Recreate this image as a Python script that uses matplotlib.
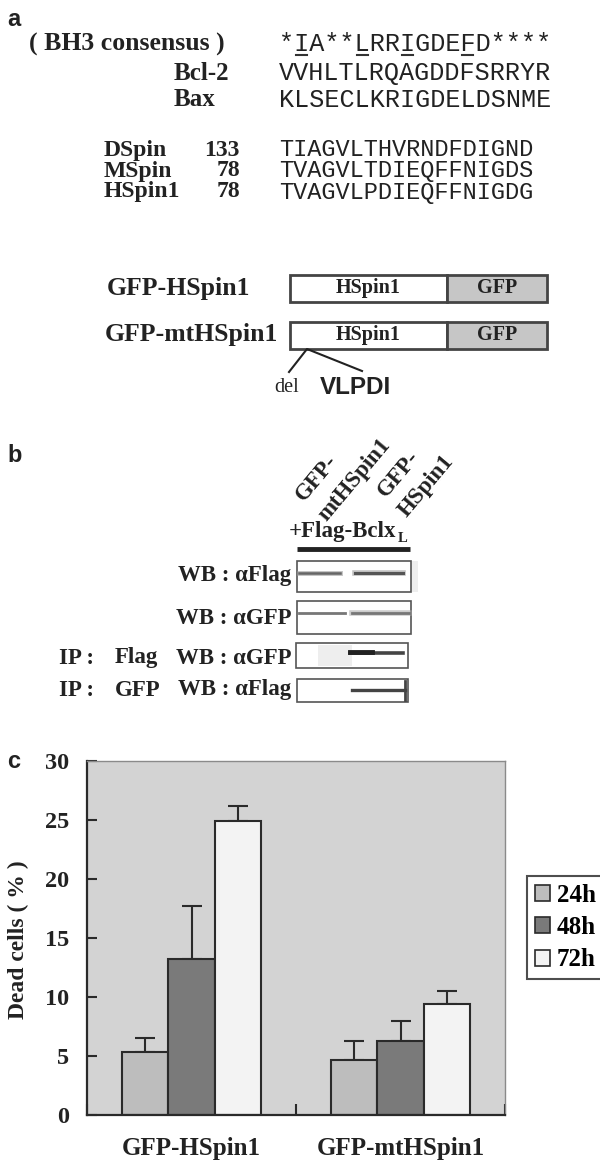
import matplotlib
matplotlib.use('Agg')
import matplotlib.pyplot as plt
from matplotlib.patches import Rectangle, Patch
import numpy as np

SERIF = 'Liberation Serif'
MONO = 'Liberation Mono'
SANS = 'Liberation Sans'

# ---- panel a : sequences
bh3_consensus = '*IA**LRRIGDEFD****'
consensus_underlined = [1, 5, 8, 12]
ref_names = ['Bcl-2', 'Bax']
ref_seqs = ['VVHLTLRQAGDDFSRRYR', 'KLSECLKRIGDELDSNME']
spin_names = ['DSpin', 'MSpin', 'HSpin1']
spin_starts = ['133', '78', '78']
spin_seqs = ['TIAGVLTHVRNDFDIGND', 'TVAGVLTDIEQFFNIGDS', 'TVAGVLPDIEQFFNIGDG']
constructs = ['GFP-HSpin1', 'GFP-mtHSpin1']

# ---- panel b : blot labels
lanes = ['GFP-\nmtHSpin1', 'GFP-\nHSpin1']
wb_labels = ['WB : αFlag', 'WB : αGFP', 'WB : αGFP', 'WB : αFlag']
ip_labels = ['', '', 'Flag', 'GFP']

# ---- panel c : dead cells (%)
groups = ['GFP-HSpin1', 'GFP-mtHSpin1']
hours = ['24h', '48h', '72h']
dead_24h = [5.3, 4.7]
dead_48h = [13.2, 6.25]
dead_72h = [24.9, 9.4]
err_24h = [1.25, 1.55]
err_48h = [4.55, 1.75]
err_72h = [1.3, 1.15]

fig = plt.figure(figsize=(6, 11.63), dpi=100)
ax0 = fig.add_axes([0, 0, 1, 1])
ax0.set_xlim(0, 600)
ax0.set_ylim(1163, 0)
ax0.axis('off')


def t(x, y, s, size=17, ha='left', family=SERIF, weight='bold', **kw):
    ax0.text(x, y, s, fontsize=size, ha=ha, va='center', family=family,
             fontweight=weight, color='#222222', **kw)


# panel a
t(7, 19, 'a', family=SANS)
t(29, 44, '( BH3 consensus )', size=18.5)
x_seq = 279
cw = 15.1
fs_mono = cw / 0.6 * 72 / 100
ax0.text(x_seq, 44, bh3_consensus, family=MONO, fontsize=fs_mono, va='center', color='#222222')
for i in consensus_underlined:
    ax0.plot([x_seq + i * cw + 2, x_seq + (i + 1) * cw - 2], [55, 55], color='#333333', lw=1.5)

for name, seq, y in zip(ref_names, ref_seqs, [73, 100]):
    t(174, y, name, size=18)
    ax0.text(x_seq, y, seq, family=MONO, fontsize=fs_mono, va='center', color='#222222')

# tight three-line block, as in the reference
t(104, 171, '\n'.join(spin_names), size=17, linespacing=0.95)
t(240, 171, '\n'.join(spin_starts), ha='right', size=17, linespacing=0.95, multialignment='right')
ax0.text(x_seq, 171, '\n'.join(spin_seqs), family=MONO, fontsize=fs_mono * 0.94, va='center',
         color='#222222', linespacing=0.92)

# constructs
for name, x, y0 in zip(constructs, [107, 105], [275, 322]):
    t(x, y0 + 13, name, size=18.5)
    ax0.add_patch(Rectangle((290, y0), 157, 27, facecolor='white', edgecolor='#444444', lw=2))
    ax0.add_patch(Rectangle((447, y0), 100, 27, facecolor='#c6c6c6', edgecolor='#444444', lw=2))
    t(368, y0 + 13, 'HSpin1', size=14.5, ha='center')
    t(497, y0 + 13, 'GFP', size=14.5, ha='center')

ax0.plot([289, 307, 362], [372, 349, 371], color='#222222', lw=1.5)
t(274, 387, 'del', size=14.5, weight='normal')
t(320, 387, 'VLPDI', size=17.5, family=SANS)

# panel b
t(7, 455, 'b', family=SANS)
for txt, (px, py) in zip(lanes[0].split('\n') + lanes[1].split('\n'),
                         [(304, 502), (327, 522), (386, 498), (407, 518)]):
    ax0.text(px, py, txt, rotation=50, rotation_mode='anchor', fontsize=16.5,
             family=SERIF, fontweight='bold', color='#222222')
t(289, 532, '+Flag-Bclx', size=16.5)
t(398, 539, 'L', size=10.5)
ax0.plot([297, 410], [549, 549], color='#222222', lw=3.5, solid_capstyle='butt')

blot_boxes = [(297, 561, 114, 31), (297, 601, 114, 33), (296, 643, 112, 25), (297, 679, 111, 23)]
label_y = [575, 618, 658, 690]
ax0.add_patch(Rectangle((411, 561), 7, 31, facecolor='#eeeeee', edgecolor='none'))
ax0.add_patch(Rectangle((318, 645), 34, 21, facecolor='#eeeeee', edgecolor='none'))
for (x, y, w, h), lab, ip, ly in zip(blot_boxes, wb_labels, ip_labels, label_y):
    ax0.add_patch(Rectangle((x, y), w, h, facecolor='none', edgecolor='#555555', lw=1.2))
    t(291, ly, lab, size=16.5, ha='right')
    if ip:
        t(59, ly, 'IP :', size=16.5)
        t(115, ly, ip, size=16.5)

# bands
ax0.plot([299, 340], [573, 573], color='#999999', lw=3.5, alpha=0.6)
ax0.plot([299, 340], [573, 573], color='#666666', lw=1.8)
ax0.plot([355, 403], [573, 573], color='#999999', lw=4, alpha=0.6)
ax0.plot([355, 403], [573, 573], color='#555555', lw=2.2)
ax0.plot([299, 345], [613, 613], color='#777777', lw=2.0)
ax0.plot([352, 409], [613, 613], color='#aaaaaa', lw=4, alpha=0.6)
ax0.plot([352, 409], [613, 613], color='#777777', lw=2.0)
ax0.plot([350, 403], [653, 653], color='#444444', lw=2.6)
ax0.plot([350, 372], [652, 652], color='#222222', lw=3.5)
ax0.plot([352, 405], [690, 690], color='#444444', lw=2.4)
ax0.plot([405, 405], [681, 700], color='#444444', lw=2)

# panel c
t(7, 762, 'c', family=SANS)
ax = fig.add_axes([87 / 600, 1 - 1115 / 1163, 418 / 600, 354 / 1163])
ax.set_facecolor('#d3d3d3')
x = np.array([0.5, 1.5])
w = 0.222
colors = ['#bdbdbd', '#7a7a7a', '#f3f3f3']
series = [dead_24h, dead_48h, dead_72h]
errs = [err_24h, err_48h, err_72h]
handles = []
for k, (vals, e, c, lab) in enumerate(zip(series, errs, colors, hours)):
    xs = x + (k - 1) * w
    ax.bar(xs, vals, width=w, color=c, edgecolor='#2a2a2a', lw=1.5, zorder=2)
    ax.errorbar(xs, vals, yerr=[np.zeros(len(e)), e], fmt='none', ecolor='#2a2a2a',
                elinewidth=1.5, capsize=7, capthick=1.5, zorder=1)
    handles.append(Patch(facecolor=c, edgecolor='#2a2a2a', lw=1.2, label=lab))

ax.set_xlim(0, 2)
ax.set_ylim(0, 30)
ax.set_yticks(np.arange(0, 31, 5))
ax.set_xticks([0, 1, 2])
ax.set_xticklabels([])
ax.set_xticks(x, minor=True)
ax.set_xticklabels(groups, minor=True, fontsize=18, family=SERIF, fontweight='bold', color='#222222')
ax.tick_params(axis='x', which='minor', length=0, pad=16)
ax.tick_params(axis='x', which='major', direction='in', length=8, width=1.5, color='#2a2a2a')
ax.tick_params(axis='y', direction='in', length=7, width=1.5, color='#2a2a2a', pad=13)
for lbl in ax.get_yticklabels():
    lbl.set_fontsize(17.5)
    lbl.set_family(SERIF)
    lbl.set_fontweight('bold')
    lbl.set_color('#222222')
for s in ['left', 'bottom']:
    ax.spines[s].set_linewidth(1.6)
    ax.spines[s].set_color('#2a2a2a')
for s in ['top', 'right']:
    ax.spines[s].set_linewidth(1)
    ax.spines[s].set_color('#8a8a8a')

fig.text(18 / 600, 1 - 940 / 1163, 'Dead cells ( % )', rotation=90, ha='center', va='center',
         fontsize=17, family=SERIF, fontweight='bold', color='#222222')

leg = ax.legend(handles=handles, loc='upper left', bbox_to_anchor=(527 / 600, 1 - 876 / 1163),
                bbox_transform=fig.transFigure, frameon=True, fancybox=False,
                prop={'family': SERIF, 'weight': 'bold', 'size': 18},
                handlelength=0.6, handleheight=0.6, handletextpad=0.3,
                labelspacing=0.38, borderpad=0.3, borderaxespad=0)
leg.get_frame().set_edgecolor('#222222')
leg.get_frame().set_linewidth(1.5)

fig.savefig('out.png', dpi=100)
